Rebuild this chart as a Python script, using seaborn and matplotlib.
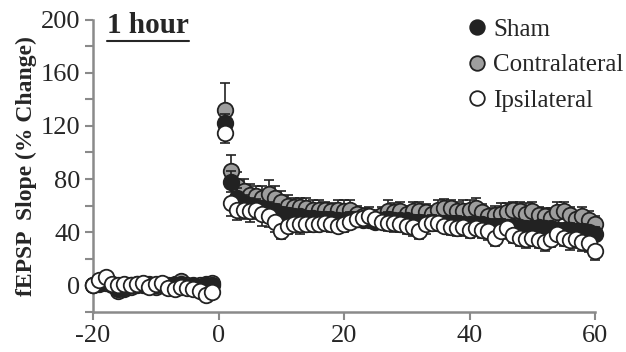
import numpy as np
import pandas as pd
import matplotlib
matplotlib.use("Agg")
import matplotlib.pyplot as plt
from matplotlib.lines import Line2D
import seaborn as sns

# 時間軸（分鐘）
t_base = list(range(-20, 0))
t_post = list(range(1, 61))

# 基線期
sham_base = [0, 2, 3, 1, -3, -2, 0, 1, 0, 1, 0, 1, -1, 0, 1, -1, 0, -1, 0, 0]
contra_base = [0, 1, 2, 0, -4, -3, -1, 0, 1, 0, -1, 0, 0, 1, 3, 0, -1, 0, 1, 2]
ipsi_base = [0, 4, 6, 1, 0, 1, 0, 1, 2, -1, 1, 2, -2, -3, -1, -2, -3, -4, -7, -5]
base_err = [2, 2, 3, 2, 2, 3, 2, 2, 2, 3, 2, 2, 3, 2, 2, 3, 2, 2, 3, 2]

# 刺激後
sham_post = [122, 78, 66, 62, 60, 59, 58, 57, 56, 54,
             53, 52, 52, 51, 51, 50, 50, 50, 49, 49,
             50, 50, 49, 49, 48, 49, 50, 49, 49, 49,
             48, 48, 47, 48, 47, 47, 47, 47, 46, 46,
             46, 46, 45, 45, 45, 44, 44, 44, 43, 43,
             44, 43, 43, 42, 42, 42, 41, 41, 40, 39]
contra_post = [132, 86, 75, 71, 68, 67, 66, 69, 66, 63,
               60, 59, 59, 58, 57, 57, 57, 56, 57, 56,
               57, 54, 52, 52, 51, 53, 56, 55, 56, 54,
               56, 56, 55, 54, 57, 58, 58, 56, 56, 57,
               58, 55, 52, 53, 54, 55, 57, 56, 54, 56,
               53, 52, 51, 55, 56, 53, 50, 52, 49, 46]
ipsi_post = [115, 62, 57, 57, 56, 57, 54, 52, 48, 41,
             45, 46, 46, 46, 46, 46, 47, 46, 45, 46,
             48, 50, 51, 52, 50, 48, 47, 47, 46, 45,
             44, 41, 46, 47, 47, 45, 44, 43, 44, 42,
             43, 42, 41, 36, 41, 43, 38, 36, 35, 36,
             34, 33, 35, 39, 36, 34, 35, 33, 32, 26]

sham_err = [7, 8, 7, 6, 6, 6, 5, 6, 5, 5,
            5, 5, 5, 5, 4, 5, 5, 4, 5, 5,
            5, 4, 5, 5, 4, 5, 5, 5, 4, 5,
            5, 5, 4, 5, 5, 4, 5, 5, 5, 4,
            5, 5, 5, 4, 5, 5, 5, 4, 5, 5,
            4, 5, 5, 5, 4, 5, 5, 5, 4, 5]
contra_err = [20, 12, 10, 9, 8, 8, 9, 10, 9, 8,
              8, 7, 7, 8, 7, 7, 6, 6, 7, 8,
              7, 6, 6, 7, 6, 6, 8, 7, 7, 6,
              7, 7, 6, 6, 7, 7, 6, 7, 8, 7,
              8, 6, 6, 7, 8, 7, 6, 7, 8, 7,
              6, 6, 7, 8, 7, 6, 6, 7, 7, 6]
ipsi_err = [8, 10, 8, 7, 8, 7, 9, 8, 8, 6,
            6, 6, 7, 6, 6, 5, 6, 6, 5, 6,
            5, 6, 5, 6, 6, 5, 6, 7, 6, 6,
            7, 6, 7, 6, 6, 5, 6, 6, 7, 6,
            5, 6, 7, 6, 6, 7, 6, 6, 7, 6,
            6, 7, 6, 6, 6, 7, 7, 7, 7, 7]

groups = ["Sham", "Contralateral", "Ipsilateral"]
fills = {"Sham": "#222222", "Contralateral": "#9e9e9e", "Ipsilateral": "#ffffff"}

y_ticks = [-20, 0, 20, 40, 60, 80, 100, 120, 140, 160, 180, 200]
y_ticklabels = ["", "0", "", "40", "", "80", "", "120", "", "160", "", "200"]
x_ticks = [-20, 0, 20, 40, 60]

rows = []
for g, b, p, e in [("Sham", sham_base, sham_post, sham_err),
                   ("Contralateral", contra_base, contra_post, contra_err),
                   ("Ipsilateral", ipsi_base, ipsi_post, ipsi_err)]:
    for t, v, s in zip(t_base + t_post, b + p, base_err + e):
        rows.append({"time": t, "slope": v, "sem": s, "group": g})
df = pd.DataFrame(rows)

sns.set_style("ticks")
plt.rcParams['font.family'] = ['Liberation Serif', 'DejaVu Sans']
text_color = "#262626"
spine_color = "#8a8a8a"

fig = plt.figure(figsize=(6.26, 3.52), dpi=100)
ax = fig.add_axes([0.1486, 0.1136, 0.8019, 0.831])

# 畫圖順序：對側 -> 假手術 -> 同側（同側在最上層）
err_dir = {"Contralateral": "up", "Sham": "both", "Ipsilateral": "down"}
for z, g in enumerate(["Contralateral", "Sham", "Ipsilateral"]):
    sub = df[df["group"] == g]
    sem = sub["sem"].to_numpy()
    lo = sem if err_dir[g] in ("down", "both") else np.zeros_like(sem)
    hi = sem if err_dir[g] in ("up", "both") else np.zeros_like(sem)
    ax.errorbar(sub["time"], sub["slope"], yerr=[lo, hi], fmt="none",
                ecolor="#222222", elinewidth=1.2, capsize=3.5, capthick=1.2,
                zorder=2 + 2 * z, clip_on=False)
    sns.scatterplot(data=sub, x="time", y="slope", ax=ax, color=fills[g],
                    edgecolor="#222222", linewidth=1.3, s=125, zorder=3 + 2 * z,
                    clip_on=False, legend=False)

ax.set_xlim(-20, 60)
ax.set_ylim(-20, 200)
ax.set_xticks(x_ticks)
ax.set_xticklabels([str(x) for x in x_ticks])
ax.set_yticks(y_ticks)
ax.set_yticklabels(y_ticklabels)
ax.tick_params(axis="both", labelsize=19, colors=spine_color, labelcolor=text_color,
               width=1.5, length=6, pad=3)
ax.set_xlabel("")
ax.set_ylabel("fEPSP  Slope (% Change)", fontsize=17, fontweight="bold",
              color=text_color, labelpad=3)
for side in ["top", "right"]:
    ax.spines[side].set_visible(False)
for side in ["left", "bottom"]:
    ax.spines[side].set_color(spine_color)
    ax.spines[side].set_linewidth(1.8)

# 圖例
handles = [Line2D([], [], marker="o", linestyle="none", markersize=10.5,
                  markerfacecolor=fills[g], markeredgecolor="#222222",
                  markeredgewidth=1.3) for g in groups]
fig.legend(handles, groups, loc="upper left", bbox_to_anchor=(0.748, 0.948),
           frameon=False, fontsize=18, handlelength=0.7, handletextpad=0.3,
           labelspacing=0.52, borderpad=0, borderaxespad=0, labelcolor=text_color)

# 標題「1 hour」加底線
title = fig.text(107 / 626, 1 - 33 / 352, "1 hour", fontsize=21, fontweight="bold",
                 color=text_color, ha="left", va="baseline")
fig.canvas.draw()
bb = title.get_window_extent()
uy = bb.y0 - 2
fig.add_artist(Line2D([bb.x0 / fig.bbox.width, bb.x1 / fig.bbox.width],
                      [uy / fig.bbox.height, uy / fig.bbox.height],
                      color=text_color, linewidth=1.5))

fig.savefig("out.png", dpi=100)
